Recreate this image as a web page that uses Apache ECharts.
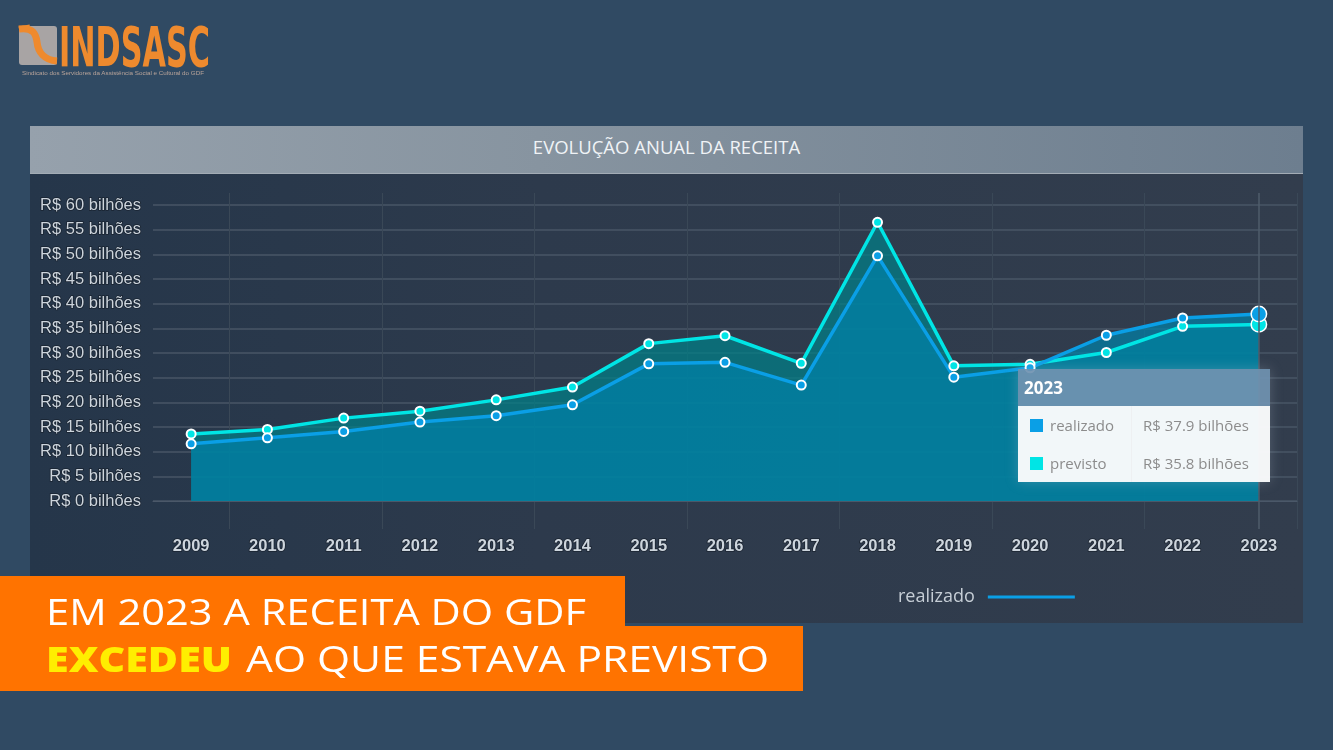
<!DOCTYPE html>
<html>
<head>
<meta charset="utf-8">
<script src="https://cdn.jsdelivr.net/npm/echarts@6/dist/echarts.min.js"></script>
<style>
  html, body { margin:0; padding:0; }
  body { width:1333px; height:750px; overflow:hidden; background:#304a63; position:relative; font-family:'Open Sans', sans-serif; }
  #panel { position:absolute; left:30px; top:126px; width:1273px; height:497px; background:linear-gradient(90deg,#25364a 0%,#2d3a4c 40%,#323d4d 100%); z-index:1; }
  #titlebar { position:absolute; left:0; top:0; width:100%; height:48px; background:linear-gradient(90deg,#96a1ac 0%,#8794a0 40%,#6d7e8f 100%); border-bottom:1px solid #a3acb5; box-sizing:border-box; }
  #titlebar span { position:absolute; left:0; width:100%; top:0; line-height:41px; text-align:center; color:#f0f3f6; font-size:18.5px; font-family:'Open Sans', sans-serif; }
  #chart { position:absolute; left:0; top:0; width:1333px; height:750px; z-index:2; }
  #banner { position:absolute; left:0; top:0; z-index:3; }
  #logo { position:absolute; left:0; top:0; z-index:3; }
</style>
</head>
<body>
<svg id="logo" width="260" height="90">
  <rect x="19" y="26" width="38" height="39" rx="3" fill="#a8a4a4"/>
  <path d="M19,29 C33,27 36,34 37,42 C38,52 44,60 57,61" stroke="#ee8a2e" stroke-width="7" fill="none"/>
  <path d="M19,29 L30,27" stroke="#ee8a2e" stroke-width="5" fill="none"/>
  <text x="59" y="66" font-family="'Liberation Sans Narrow','DejaVu Sans Condensed',sans-serif" font-weight="bold" font-size="56" fill="#ee8a2e" textLength="151" lengthAdjust="spacingAndGlyphs">INDSASC</text>
  <text x="22" y="75" font-family="'Liberation Sans',sans-serif" font-size="6" fill="#b9a49a" textLength="182" lengthAdjust="spacingAndGlyphs">Sindicato dos Servidores da Assistência Social e Cultural do GDF</text>
</svg>
<div id="panel"><div id="titlebar"><span>EVOLUÇÃO ANUAL DA RECEITA</span></div></div>
<div id="chart"></div>
<svg id="banner" width="1333" height="750" style="pointer-events:none">
  <rect x="0" y="576" width="625" height="51" fill="#ff7300"/>
  <rect x="0" y="626" width="803" height="65" fill="#ff7300"/>
  <text x="46" y="625" font-family="'Open Sans',sans-serif" font-size="36" fill="#ffffff" textLength="540" lengthAdjust="spacingAndGlyphs">EM 2023 A RECEITA DO GDF</text>
  <text x="46" y="672" font-family="'Open Sans',sans-serif" font-size="36" font-weight="800" fill="#ffee00" textLength="186" lengthAdjust="spacingAndGlyphs">EXCEDEU</text>
  <text x="246" y="672" font-family="'Open Sans',sans-serif" font-size="36" fill="#ffffff" textLength="523" lengthAdjust="spacingAndGlyphs">AO QUE ESTAVA PREVISTO</text>
</svg>
<script>
const years = ['2009','2010','2011','2012','2013','2014','2015','2016','2017','2018','2019','2020','2021','2022','2023'];
const realizado = [11.6, 12.8, 14.1, 16.0, 17.3, 19.5, 27.8, 28.1, 23.5, 49.7, 25.1, 27.0, 33.6, 37.1, 37.9];
const previsto  = [13.6, 14.5, 16.8, 18.2, 20.5, 23.1, 31.9, 33.5, 27.9, 56.5, 27.4, 27.7, 30.1, 35.4, 35.8];
const seriesNames = ['realizado', 'previsto'];
const colorReal = '#0a9fe6';
const colorPrev = '#00e5e5';
const highlightIndex = 14;

function buildData(arr, color) {
  return arr.map((v, i) => i === highlightIndex
    ? { value: v, symbolSize: 14, itemStyle: { color: color, borderColor: '#ffffff', borderWidth: 1.5 } }
    : v);
}
function fmt(v) { return 'R$ ' + v.toFixed(1) + ' bilhões'; }

const chart = echarts.init(document.getElementById('chart'));
const labelStyle = { color: '#cdd5dd', fontSize: 16.5, fontFamily: 'Liberation Sans', textBorderColor: 'rgba(18,26,36,0.7)', textBorderWidth: 1.5 };
const option = {
  animation: false,
  legend: {
    data: ['realizado'],
    left: 893, top: 583,
    align: 'right',
    icon: 'rect',
    itemWidth: 87, itemHeight: 3,
    itemStyle: { borderWidth: 0, color: colorReal },
    selectedMode: false,
    textStyle: { color: '#c6ced6', fontSize: 18, fontFamily: 'Open Sans', padding: [0, 8, 0, 0] }
  },
  tooltip: {
    trigger: 'axis',
    triggerOn: 'none',
    alwaysShowContent: true,
    transitionDuration: 0,
    padding: 0,
    borderWidth: 0,
    backgroundColor: 'transparent',
    extraCssText: 'box-shadow:0 0 12px rgba(200,212,225,0.25);border-radius:0;',
    axisPointer: { type: 'none' },
    position: function () { return [1018, 369]; },
    formatter: function (params) {
      const sorted = seriesNames.map(n => params.find(p => p.seriesName === n)).filter(Boolean);
      let rows = sorted.map(p => {
        const c = p.seriesName === 'realizado' ? colorReal : colorPrev;
        return '<div style="height:38px;display:flex;align-items:center;font-size:15px;color:#8c8c8c;">' +
          '<span style="display:inline-block;width:13px;height:13px;background:' + c + ';margin-left:12px;margin-right:7px;"></span>' +
          '<span style="width:81px;">' + p.seriesName + '</span>' +
          '<span style="border-left:1px solid #eef0f2;height:38px;margin-right:11px;"></span>' +
          '<span>' + fmt(p.value) + '</span></div>';
      }).join('');
      return '<div style="width:252px;font-family:\'Open Sans\',sans-serif;">' +
        '<div style="height:37px;line-height:37px;background:rgba(112,146,176,0.93);color:#fff;font-weight:bold;font-size:17px;padding-left:6px;">' + params[0].axisValue + '</div>' +
        '<div style="background:rgba(250,251,252,0.97);">' + rows + '</div></div>';
    }
  },
  grid: [
    { left: 153, right: 36, top: 205, bottom: 249 },
    { left: 153, right: 36, top: 193, bottom: 221 }
  ],
  xAxis: [
    {
      type: 'category', gridIndex: 0, data: years, boundaryGap: true, offset: 28,
      axisLine: { lineStyle: { color: '#4b5869', width: 1 } },
      axisTick: { show: false },
      axisLabel: Object.assign({ margin: 9, fontWeight: 'bold' }, labelStyle),
      splitLine: { show: false },
      axisPointer: { type: 'none' }
    },
    {
      type: 'category', gridIndex: 1, data: years, boundaryGap: true,
      axisLine: { show: false }, axisTick: { show: false }, axisLabel: { show: false },
      splitLine: { show: true, interval: function (i) { return i % 2 === 1; }, lineStyle: { color: '#3a4857', width: 1 } },
      axisPointer: { show: true, type: 'line', value: years[highlightIndex], status: 'show', label: { show: false }, lineStyle: { color: '#4f5c6b', width: 1.5, type: 'solid' } }
    }
  ],
  yAxis: [
    {
      type: 'value', gridIndex: 0, min: 0, max: 60, interval: 5,
      axisLine: { show: false }, axisTick: { show: false },
      axisLabel: Object.assign({ margin: 12, formatter: function (v) { return 'R$ ' + v + ' bilhões'; } }, labelStyle),
      splitLine: { lineStyle: { color: '#485666', width: 1.5 } }
    },
    { type: 'value', gridIndex: 1, min: 0, max: 1, show: false }
  ],
  series: [
    {
      name: 'previsto', type: 'line', xAxisIndex: 0, yAxisIndex: 0,
      data: buildData(previsto, colorPrev),
      symbol: 'circle', symbolSize: 9, showAllSymbol: true,
      lineStyle: { color: colorPrev, width: 3.5 },
      itemStyle: { color: colorPrev, borderColor: '#ffffff', borderWidth: 2 },
      areaStyle: { color: 'rgba(0,128,136,0.72)', opacity: 1 },
      emphasis: { disabled: true }
    },
    {
      name: 'realizado', type: 'line', xAxisIndex: 0, yAxisIndex: 0,
      data: buildData(realizado, colorReal),
      symbol: 'circle', symbolSize: 9, showAllSymbol: true,
      lineStyle: { color: colorReal, width: 3.5 },
      itemStyle: { color: colorReal, borderColor: '#ffffff', borderWidth: 2 },
      areaStyle: { color: 'rgba(0,130,170,0.7)', opacity: 1 },
      emphasis: { disabled: true }
    }
  ]
};
chart.setOption(option);
chart.dispatchAction({ type: 'showTip', seriesIndex: 1, dataIndex: highlightIndex });
</script>
</body>
</html>
